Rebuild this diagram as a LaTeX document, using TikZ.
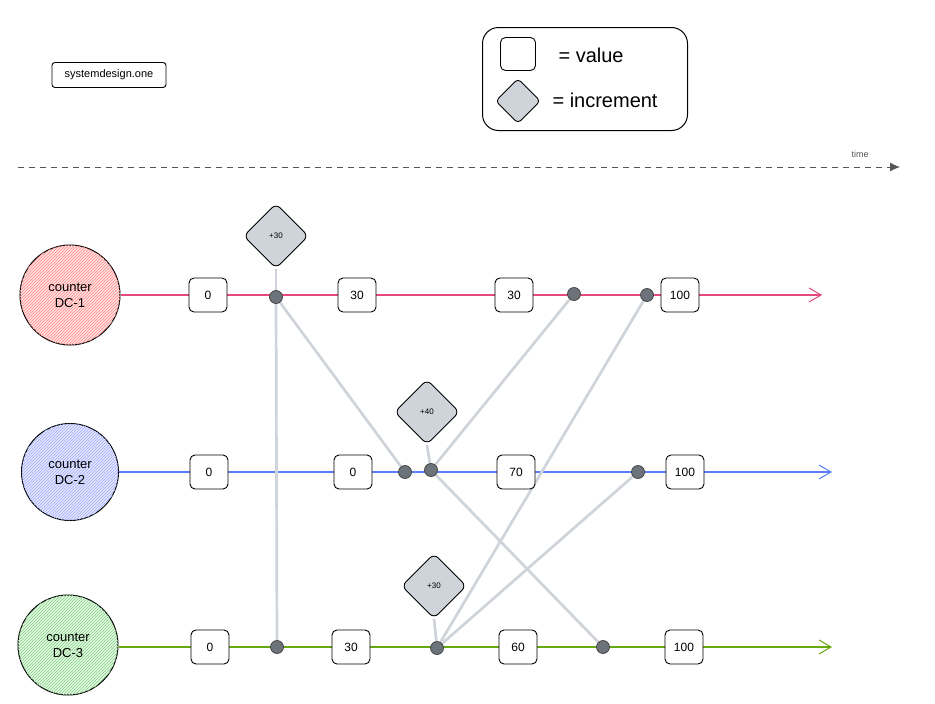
\documentclass[tikz,border=0pt]{standalone}
\usepackage{fontspec}
\setmainfont{Liberation Sans}
\usetikzlibrary{arrows.meta,patterns,shapes.geometric}
\pgfdeclarelayer{background}
\pgfdeclarelayer{lines}
\pgfsetlayers{lines,background,main}
\definecolor{pinkl}{HTML}{E64980}
\definecolor{bluel}{HTML}{5C7CFA}
\definecolor{greenl}{HTML}{66A80F}
\definecolor{conn}{HTML}{CED4DA}
\definecolor{incfill}{HTML}{CED4DA}
\definecolor{dotfill}{HTML}{6C737B}
\definecolor{timec}{HTML}{555555}
\begin{document}
\begin{tikzpicture}[x=1pt,y=-1pt,
  valbox/.style={draw=black, fill=white, rounded corners=5pt, minimum width=38pt, minimum height=34pt, inner sep=0pt, line width=0.9pt, font=\fontsize{12}{14}\selectfont},
  incdia/.style={diamond, draw=black, fill=incfill, rounded corners=6pt, minimum width=65pt, minimum height=65pt, inner sep=0pt, line width=0.9pt, font=\fontsize{8}{9}\selectfont},
  evdot/.style={circle, draw=black!75, fill=dotfill, minimum size=13pt, inner sep=0pt, line width=0.7pt},
  dccircle/.style={circle, draw=black, line width=1pt, minimum size=100pt, inner sep=0pt, align=center, font=\fontsize{13}{16}\selectfont},
  connline/.style={draw=conn, line width=2.7pt},
  tline/.style={line width=1.2pt, -{Straight Barb[length=12pt,width=14pt,line width=1pt]}},
  lbl/.style={font=\fontsize{20}{24}\selectfont, anchor=west}
]
\useasboundingbox (0,0) rectangle (935,704);

% logo
\node[draw=black, rounded corners=3pt, line width=0.9pt, fill=white, minimum width=114pt, minimum height=25pt, inner sep=0pt, font=\fontsize{11}{13}\selectfont] (logo) at (109,75) {systemdesign.one};

% legend
\node[draw=black, rounded corners=16pt, line width=1pt, minimum width=205pt, minimum height=103pt] (legend) at (585,79) {};
\node[draw=black, rounded corners=5pt, line width=0.9pt, minimum width=35pt, minimum height=33pt] (legval) at (518,54) {};
\node[lbl] (legvalt) at (555,55) {= value};
\node[incdia, minimum width=45pt, minimum height=45pt, rounded corners=4pt] (leginc) at (518,101) {};
\node[lbl] (legincht) at (549,100) {= increment};

% time arrow
\node[font=\fontsize{9}{11}\selectfont, text=timec] (timet) at (860,154) {time};
\coordinate (t0) at (18,167);
\coordinate (t1) at (900,167);
\draw[timec, line width=0.8pt, dash pattern=on 6pt off 5pt, -{Latex[length=10pt,width=9pt]}] (t0) -- (t1);

% circles
\node[dccircle, fill=red!12, postaction={pattern=north east lines, pattern color=red!45}] (c1) at (70,295) {counter\\DC-1};
\node[dccircle, minimum size=97pt, fill=blue!10, postaction={pattern=north east lines, pattern color=bluel!60}] (c2) at (70,472) {counter\\DC-2};
\node[dccircle, fill=green!12, postaction={pattern=north east lines, pattern color=green!50!black!45}] (c3) at (68,645) {counter\\DC-3};

% timeline ends
\coordinate (e1) at (822,295);
\coordinate (e2) at (832,472);
\coordinate (e3) at (832,647);

% value boxes
\node[valbox] (v10) at (208,295) {0};
\node[valbox] (v11) at (357,295) {30};
\node[valbox] (v12) at (514,295) {30};
\node[valbox] (v13) at (680,295) {100};
\node[valbox] (v20) at (209,472) {0};
\node[valbox] (v21) at (353,472) {0};
\node[valbox] (v22) at (516,472) {70};
\node[valbox] (v23) at (685,472) {100};
\node[valbox] (v30) at (210,647) {0};
\node[valbox] (v31) at (351,647) {30};
\node[valbox] (v32) at (518,647) {60};
\node[valbox] (v33) at (684,647) {100};

% event dots
\node[evdot] (d11) at (276,297) {};
\node[evdot] (d12) at (574,294) {};
\node[evdot] (d13) at (647,295) {};
\node[evdot] (d21) at (405,472) {};
\node[evdot] (d22) at (431,470) {};
\node[evdot] (d23) at (638,472) {};
\node[evdot] (d31) at (277,647) {};
\node[evdot] (d32) at (437,648) {};
\node[evdot] (d33) at (603,647) {};

% increments
\node[incdia] (i1) at (276,236) {+30};
\node[incdia] (i2) at (427,412) {+40};
\node[incdia] (i3) at (434,586) {+30};

% timelines
\begin{pgfonlayer}{lines}
\draw[tline, pinkl] (c1.east) -- (e1);
\draw[tline, bluel] (c2.east) -- (e2);
\draw[tline, greenl] (c3.east |- e3) -- (e3);
\end{pgfonlayer}

% connectors
\begin{pgfonlayer}{background}
\draw[connline] (i1.south) -- (d11.center);
\draw[connline] (d11.center) -- (d31.center);
\draw[connline] (d11.center) -- (d21.center);
\draw[connline] (i2.south) -- (d22.center);
\draw[connline] (d22.center) -- (d12.center);
\draw[connline] (d22.center) -- (d33.center);
\draw[connline] (i3.south) -- (d32.center);
\draw[connline] (d32.center) -- (d13.center);
\draw[connline] (d32.center) -- (d23.center);
\end{pgfonlayer}
\end{tikzpicture}
\end{document}
